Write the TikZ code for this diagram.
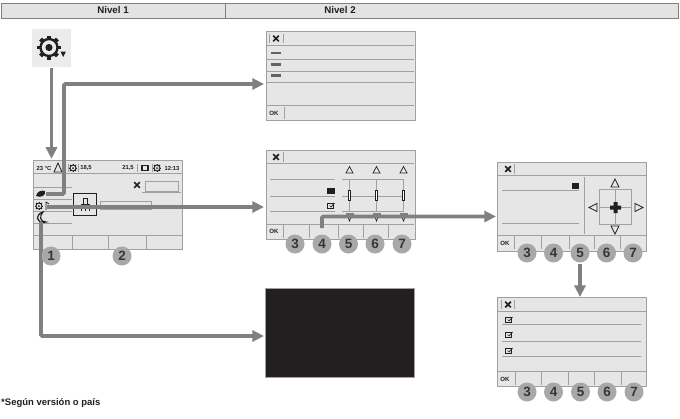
\documentclass[tikz,border=0pt]{standalone}
\usepackage{fontspec}
\setmainfont{Liberation Sans}
\usetikzlibrary{arrows.meta,positioning}

\definecolor{framegray}{HTML}{A0A0A0}
\definecolor{screengray}{HTML}{E6E6E6}
\definecolor{flowgray}{HTML}{808080}
\definecolor{badgegray}{HTML}{A8A8A8}
\definecolor{inkblack}{HTML}{231F20}

\begin{document}
\begin{tikzpicture}[
  x=.03cm,y=-.03cm,
  font=\bfseries,
  header/.style={draw=flowgray,fill=black!11,line width=.7pt,inner sep=0,anchor=north west,minimum height=.45cm},
  headtext/.style={inner sep=0,font=\fontsize{8.3}{9}\bfseries,text=inkblack},
  screen/.style={draw=framegray,fill=screengray,line width=.7pt,minimum width=4.47cm,minimum height=2.67cm,inner sep=0,anchor=north west},
  rule/.style={draw=framegray,line width=.6pt},
  flow/.style={-{Triangle[length=10pt,width=9.5pt]},draw=flowgray,line width=3pt,rounded corners=1pt},
  badge/.style={circle,fill=badgegray,minimum size=.57cm,inner sep=0,font=\fontsize{11.5}{12}\bfseries,text=inkblack!90},
  small/.style={inner sep=0,font=\fontsize{5}{6}\bfseries,text=inkblack},
  oktext/.style={inner sep=0,font=\fontsize{5.2}{6}\bfseries,text=inkblack},
  upmark/.style={draw=inkblack,line width=.6pt,fill=none},
  closemark/.pic={\draw[inkblack,line width=1.5pt] (-2.8,-2.8) -- (2.8,2.8) (-2.8,2.8) -- (2.8,-2.8);},
  checkmark/.pic={\draw[inkblack,line width=1.1pt] (-3.5,-2.5) rectangle (2.5,2.5);
    \draw[inkblack,line width=.6pt] (-1.5,-.5) -- (0,1) -- (3.5,-3);},
  gearmark/.pic={\draw[inkblack,line width=2pt] (0,0) circle (8.5);
    \foreach \a in {0,45,...,315} \draw[inkblack,line width=3.4pt] (\a:8.5) -- (\a:12);
    \fill[inkblack] (0,0) circle (3.6);},
  minigear/.pic={\draw[inkblack,line width=.8pt] (0,0) circle (3);
    \foreach \a in {0,45,...,315} \draw[inkblack,line width=.8pt] (\a:3) -- (\a:4.3);
    \fill[inkblack] (0,0) circle (1);}
]
\useasboundingbox (0,0) rectangle (680,418);

% header
\node[header,minimum width=6.72cm] (levelone) at (1,3) {};
\node[header,minimum width=13.6cm] (leveltwo) at (225,3) {};
\node[headtext] (levelonetext) at (113,10.5) {Nivel 1};
\node[headtext] (leveltwotext) at (340,10.5) {Nivel 2};

% menu key
\node[fill=black!8,minimum width=1.17cm,minimum height=1.14cm,inner sep=0] (menukey) at (51.5,48) {};
\pic at (49,47.5) {gearmark};
\fill[inkblack] (60.5,51.5) -- (66,51.5) -- (63.2,57) -- cycle;

% screens
\node[screen] (mainscreen) at (33,160) {};
\node[screen] (topscreen) at (266,31) {};
\node[screen] (slidescreen) at (266,150) {};
\node[screen] (padscreen) at (497,162) {};
\node[screen] (listscreen) at (497,297) {};
\node[screen,fill=inkblack] (darkscreen) at (265,288) {};

% main screen
\draw[rule] (33,173) -- (183,173) (33,235) -- (183,235);
\draw[rule] (33,187) -- (72,187) (33,199) -- (72,199) (33,211) -- (72,211) (33,223) -- (72,223);
\foreach \x in {72,108,146} \draw[rule] (\x,235) -- (\x,249);
\draw[rule] (68,164) -- (68,172) (78,164) -- (78,172) (137,164) -- (137,172) (152,164) -- (152,172);
\node[small] (outtemp) at (44,168) {23 °C};
\draw[inkblack,line width=.7pt] (54,172) -- (58,163) -- (62,172) -- cycle;
\pic at (73,168) {minigear};
\node[small] (settemp) at (86,168) {18,5};
\node[small] (roomtemp) at (128,168) {21,5};
\draw[inkblack,line width=1.2pt] (142,165.5) rectangle (148,170.5);
\pic at (157,168) {minigear};
\node[small] (clock) at (172,168) {12:13};
\pic at (137,185) {closemark};
\draw[rule] (145,181) rectangle (178,191) (142,192) -- (181,192);
\draw[inkblack,line width=.7pt] (73,193) rectangle (96,215);
\draw[inkblack,line width=.6pt] (81,211) -- (81,204) (89,211) -- (89,204) (85,211) -- (85,204) (81,204) -- (89,204) (83,204) -- (83,198) -- (87,198) -- (87,204);
\draw[rule] (100,201) rectangle (151,209);
\fill[inkblack] (36,196) .. controls (37,191) and (42,190) .. (45,191) .. controls (46,196) and (41,198) .. (36,196) -- cycle;
\coordinate (leaficon) at (46,194);
\pic at (39,206) {minigear};
\draw[inkblack,line width=.6pt] (46,210) -- (46,202) -- (49,204);
\coordinate (gearicon) at (47,207);
\draw[inkblack,line width=1pt] (43,212) .. controls (35,214) and (36,225) .. (46,222) .. controls (40,222) and (39,216) .. (43,212) -- cycle;
\coordinate (moonicon) at (41,222);

% top screen
\draw[rule] (266,45) -- (414,45) (266,59) -- (414,59) (266,71) -- (414,71) (266,82) -- (414,82) (266,105) -- (414,105);
\draw[rule] (269,34) -- (269,43) (283,34) -- (283,43) (284,107) -- (284,119);
\pic at (276,38.5) {closemark};
\foreach \y in {53,64.5,75.5} \draw[inkblack!70,line width=2pt] (271,\y) -- (281,\y);
\node[oktext] (oktop) at (274,113) {OK};

% slider screen
\draw[rule] (266,163) -- (414,163) (266,224) -- (414,224);
\draw[rule] (283,152) -- (283,162);
\foreach \x in {283,309,338,363,388} \draw[rule] (\x,225) -- (\x,238);
\pic at (276,157) {closemark};
\node[oktext] (okslide) at (274,231.5) {OK};
\foreach \y in {179,196,211} {
  \draw[rule] (270,\y) -- (335,\y);
  \draw[rule] (342,\y) -- (404,\y);
}
\fill[inkblack] (327,188) rectangle (335,194);
\pic at (331,206) {checkmark};
\foreach \x in {349.5,376.5,403.5} {
  \draw[rule] (\x,179) -- (\x,211);
  \draw[upmark] (\x,166.5) -- (\x+3.5,173) -- (\x-3.5,173) -- cycle;
  \draw[inkblack,line width=.6pt,fill=white] (\x-1,190) rectangle (\x+1,200);
  \fill[flowgray] (\x-4,213) rectangle (\x+4,216);
  \draw[upmark,fill=white] (\x-2,216) -- (\x+2,216) -- (\x,221) -- cycle;
}

% pad screen
\draw[rule] (497,175) -- (647,175) (497,235) -- (647,235);
\draw[rule] (514,164) -- (514,174);
\foreach \x in {514,541,569,594,620} \draw[rule] (\x,236) -- (\x,249);
\pic at (508,169) {closemark};
\node[oktext] (okpad) at (505,243) {OK};
\draw[rule] (502,190) -- (579,190) (502,223) -- (579,223) (584,177) -- (584,234);
\fill[inkblack] (572,183) rectangle (579,189);
\draw[rule] (599,189) rectangle (631,224) (599,207.5) -- (631,207.5) (615.5,189) -- (615.5,224);
\fill[inkblack] (613.5,202) rectangle (617.5,213) (610,205.5) rectangle (621,209.5);
\draw[upmark] (615,179) -- (619,187) -- (611,187) -- cycle;
\draw[upmark] (615,234) -- (619,226) -- (611,226) -- cycle;
\draw[upmark] (589,207.5) -- (597,203.5) -- (597,211.5) -- cycle;
\draw[upmark] (643,207.5) -- (635,203.5) -- (635,211.5) -- cycle;

% list screen
\draw[rule] (497,311) -- (646,311) (497,371) -- (646,371);
\draw[rule] (501,300) -- (501,309) (514,300) -- (514,309);
\foreach \x in {515,541,568,594,621} \draw[rule] (\x,372) -- (\x,385);
\pic at (508,304.5) {closemark};
\node[oktext] (oklist) at (505,379) {OK};
\draw[rule] (502,324) -- (641,324) (502,341) -- (641,341) (502,356) -- (641,356);
\foreach \y in {320,335,351} \pic at (509,\y) {checkmark};

% connectors
\coordinate (railtop) at (64,84);
\coordinate (topentry) at (264,84);
\coordinate (slideentry) at (264,207);
\coordinate (darkentry) at (264,336);
\coordinate (slideout) at (322,228);
\coordinate (padentry) at (496,216.5);
\draw[flow,shorten <=1pt,shorten >=1pt] (menukey.south) -- (menukey.south |- mainscreen.north);
\draw[flow] (leaficon) -| (railtop) -- (topentry);
\draw[flow] (gearicon) -- (slideentry);
\draw[flow] (moonicon) |- (darkentry);
\draw[flow] (slideout) |- (padentry);

% numbered badges
\node[badge] (mainone) at (51,256) {1};
\node[badge] (maintwo) at (122,256) {2};
\foreach \n/\x in {3/295,4/322,5/348.5,6/375,7/402} \node[badge] (slide\n) at (\x,244) {\n};
\foreach \n/\x in {3/527,4/553.5,5/580,6/606.5,7/633} \node[badge] (pad\n) at (\x,253) {\n};
\foreach \n/\x in {3/527,4/553.5,5/580.5,6/607,7/634} \node[badge] (list\n) at (\x,392) {\n};
\draw[flow,shorten <=1.5pt] (pad5.south) -- (pad5.south |- listscreen.north);

% footnote
\node[anchor=west,inner sep=0,font=\fontsize{8.1}{9}\bfseries,text=inkblack] (footnote) at (1,403) {*Según versión o país};
\end{tikzpicture}
\end{document}
